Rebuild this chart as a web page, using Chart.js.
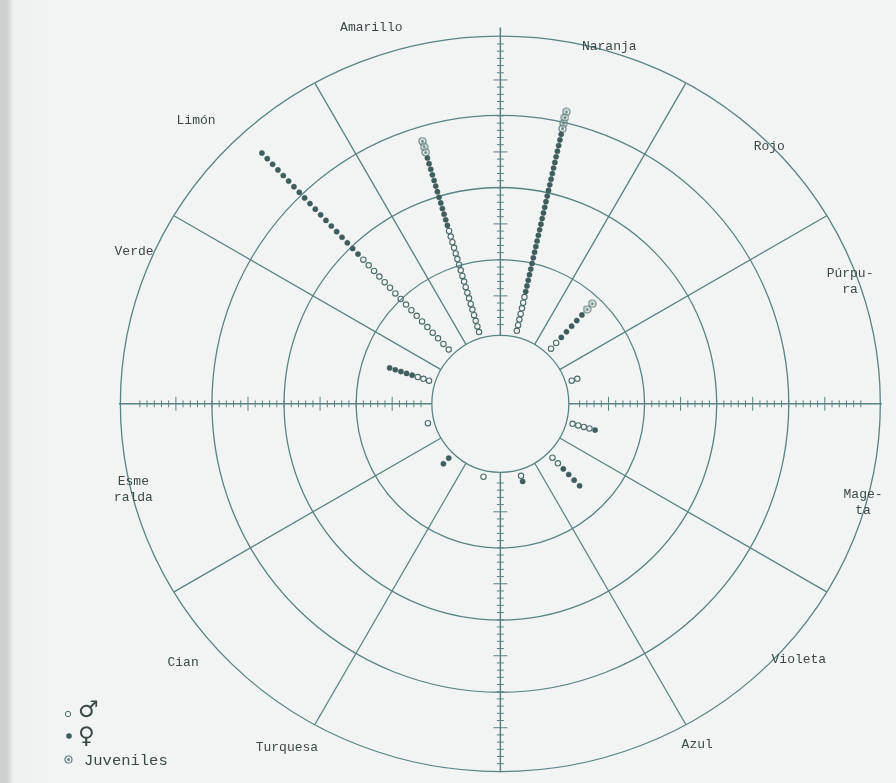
<!DOCTYPE html>
<html>
<head>
<meta charset="utf-8">
<script src="https://cdn.jsdelivr.net/npm/chart.js@4.4.1/dist/chart.umd.min.js"></script>
<style>
    html, body { margin: 0; padding: 0; }
    body {
        width: 896px; height: 783px; overflow: hidden;
        background: linear-gradient(to right, #cdd2cf 0, #cdd2cf 7px, #eef1f0 13px, #f2f4f3 60px);
    }
</style>
</head>
<body>
<canvas id="rosa" width="896" height="783"></canvas>
<script>
// sectores de color, en el sentido antihorario desde el eje vertical
const SECTORS = ['Amarillo', 'Naranja', 'Rojo', 'Púrpura', 'Magenta', 'Violeta',
                 'Azul', 'Turquesa', 'Cian', 'Esmeralda', 'Verde', 'Limón'];
// dirección del rayo de puntos en cada sector (grados, 0 = derecha, antihorario)
const RAY_ANGLE = [106.5, 77.3, 47.5, 18, -15.5, -46, -74, -103, -133.5, 195, 162, 133.5];
// número de individuos por sector
const MALES     = [19, 7, 2, 2, 4, 2, 1, 1, 0, 1, 3, 17];
const FEMALES   = [13, 29, 5, 0, 1, 4, 1, 0, 2, 0, 5, 19];
const JUVENILES = [3, 4, 2, 0, 0, 0, 0, 0, 0, 0, 0, 0];

const RINGS = [9.5, 20, 30, 40];   // radios de los círculos interiores (unidades del eje)
const HOLE = RINGS[0];
const OUTER_RX = 52.7, OUTER_RY = 51;   // el borde exterior sale algo ovalado en el original

const LINE = '#5a8383';
const INK = '#3c4949';

// cada individuo es un punto del rayo; van saliendo desde el círculo central
const START = 10.4, STEP = 0.78;
function rayPoints(counts, before) {
    const pts = [];
    counts.forEach((n, i) => {
        const a = RAY_ANGLE[i] * Math.PI / 180;
        const c = Math.cos(a), s = Math.sin(a);
        const step = STEP / Math.max(Math.abs(c), Math.abs(s));
        const skip = before.reduce((t, arr) => t + arr[i], 0);
        for (let k = 0; k < n; k++) {
            const r = START + (skip + k) * step;
            pts.push({ x: r * c, y: r * s, sector: SECTORS[i] });
        }
    });
    return pts;
}

function juvenileMark(size) {
    const cv = document.createElement('canvas');
    cv.width = size; cv.height = size;
    const g = cv.getContext('2d');
    g.strokeStyle = '#668483';
    g.fillStyle = '#668483';
    g.lineWidth = 1.2;
    g.beginPath();
    g.arc(size / 2, size / 2, size / 2 - 1, 0, Math.PI * 2);
    g.stroke();
    g.beginPath();
    g.arc(size / 2, size / 2, 1.5, 0, Math.PI * 2);
    g.fill();
    return cv;
}
const JUV_MARK = juvenileMark(9);

function outerRadius(deg) {
    const a = deg * Math.PI / 180;
    const c = Math.cos(a) / OUTER_RX, s = Math.sin(a) / OUTER_RY;
    return 1 / Math.sqrt(c * c + s * s);
}

const paper = {
    id: 'paper',
    beforeDatasetsDraw(chart) {
        const { ctx, scales: { x, y } } = chart;
        const px = (u, v) => [x.getPixelForValue(u), y.getPixelForValue(v)];
        const unit = x.getPixelForValue(1) - x.getPixelForValue(0);
        const [cx, cy] = px(0, 0);
        const polar = (deg, r) => px(r * Math.cos(deg * Math.PI / 180), r * Math.sin(deg * Math.PI / 180));

        ctx.save();
        ctx.strokeStyle = LINE;
        ctx.lineWidth = 1.3;

        RINGS.forEach(r => {
            ctx.beginPath();
            ctx.arc(cx, cy, r * unit, 0, Math.PI * 2);
            ctx.stroke();
        });
        ctx.beginPath();
        ctx.ellipse(cx, cy, OUTER_RX * unit, OUTER_RY * unit, 0, 0, Math.PI * 2);
        ctx.stroke();

        // radios que separan los sectores
        for (let deg = 0; deg < 360; deg += 30) {
            if (deg % 90 === 0) continue;
            const a = polar(deg, HOLE), b = polar(deg, outerRadius(deg));
            ctx.beginPath();
            ctx.moveTo(a[0], a[1]);
            ctx.lineTo(b[0], b[1]);
            ctx.stroke();
        }

        // ejes con marcas
        for (let deg = 0; deg < 360; deg += 90) {
            const a = polar(deg, HOLE), b = polar(deg, outerRadius(deg) + (deg === 90 ? 1.3 : 0.2));
            ctx.lineWidth = 1.5;
            ctx.beginPath();
            ctx.moveTo(a[0], a[1]);
            ctx.lineTo(b[0], b[1]);
            ctx.stroke();
            ctx.lineWidth = 1;
            for (let t = 11; t <= 50; t++) {
                const half = t % 10 === 5 ? 7 : 3.5;
                const p = polar(deg, t);
                const vertical = deg % 180 !== 0;
                ctx.beginPath();
                if (vertical) {
                    ctx.moveTo(p[0] - half, p[1]);
                    ctx.lineTo(p[0] + half, p[1]);
                } else {
                    ctx.moveTo(p[0], p[1] - half);
                    ctx.lineTo(p[0], p[1] + half);
                }
                ctx.stroke();
            }
        }

        // nombres de los sectores
        const names = [
            [['Amarillo'], -17.9, 52.3],
            [['Naranja'], 15.1, 49.6],
            [['Rojo'], 37.3, 35.7],
            [['Púrpu-', 'ra'], 48.5, 18.1],
            [['Mage-', 'ta'], 50.3, -12.6],
            [['Violeta'], 41.4, -35.6],
            [['Azul'], 27.3, -47.3],
            [['Turquesa'], -29.6, -47.7],
            [['Cian'], -44.0, -36.0],
            [['Esme', 'ralda'], -50.9, -10.8],
            [['Verde'], -50.8, 21.1],
            [['Limón'], -42.2, 39.3],
        ];
        ctx.fillStyle = INK;
        ctx.font = '13px "Liberation Mono", "DejaVu Sans Mono", monospace';
        ctx.textAlign = 'center';
        ctx.textBaseline = 'middle';
        names.forEach(([lines, u, v]) => {
            const [lx, ly] = px(u, v);
            lines.forEach((txt, j) => ctx.fillText(txt, lx, ly + j * 16));
        });

        // leyenda
        ctx.strokeStyle = '#4d6b6b';
        ctx.fillStyle = '#3f5d5d';
        ctx.lineWidth = 1;
        ctx.beginPath();
        ctx.arc(68, 714, 2.7, 0, Math.PI * 2);
        ctx.stroke();
        ctx.beginPath();
        ctx.arc(69, 736, 2.8, 0, Math.PI * 2);
        ctx.fill();
        ctx.drawImage(JUV_MARK, 64, 755);
        ctx.fillStyle = INK;
        ctx.textAlign = 'left';
        ctx.font = 'bold 23px "DejaVu Sans", sans-serif';
        ctx.fillText('♂', 78, 711);
        ctx.fillText('♀', 78, 737);
        ctx.font = '15.5px "Liberation Mono", "DejaVu Sans Mono", monospace';
        ctx.fillText('Juveniles', 84, 761);
        ctx.restore();
    }
};

const UNIT_PX = 7.3, CX = 501, CY = 404, W = 896, H = 783;

new Chart(document.getElementById('rosa'), {
    type: 'scatter',
    data: {
        datasets: [
            {
                label: '♂',
                data: rayPoints(MALES, []),
                pointStyle: 'circle',
                pointRadius: 2.7,
                backgroundColor: 'rgba(0,0,0,0)',
                borderColor: '#4d6b6b',
                borderWidth: 1.1,
            },
            {
                label: '♀',
                data: rayPoints(FEMALES, [MALES]),
                pointStyle: 'circle',
                pointRadius: 2.6,
                backgroundColor: '#3f5d5d',
                borderColor: '#3f5d5d',
                borderWidth: 0.5,
            },
            {
                label: 'Juveniles',
                data: rayPoints(JUVENILES, [MALES, FEMALES]),
                pointStyle: JUV_MARK,
                pointRadius: 4.5,
            },
        ],
    },
    options: {
        responsive: false,
        animation: false,
        events: [],
        layout: { padding: 0 },
        plugins: {
            legend: { display: false },
            tooltip: { enabled: false },
        },
        scales: {
            x: { type: 'linear', display: false, min: -CX / UNIT_PX, max: (W - CX) / UNIT_PX },
            y: { type: 'linear', display: false, min: -(H - CY) / UNIT_PX, max: CY / UNIT_PX },
        },
    },
    plugins: [paper],
});
</script>
</body>
</html>
